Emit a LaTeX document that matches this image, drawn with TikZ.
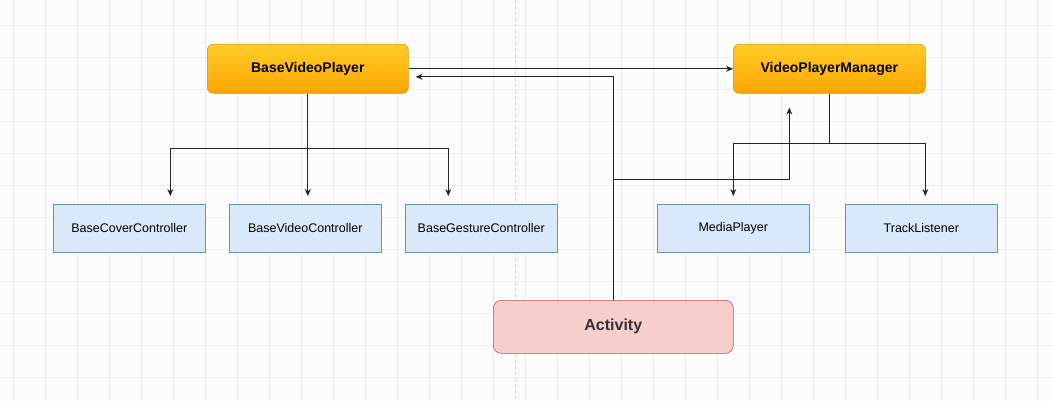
\documentclass[tikz,border=0pt]{standalone}
\usepackage{fontspec}
\setmainfont{Liberation Sans}
\usetikzlibrary{positioning,arrows.meta,backgrounds}

\definecolor{gridminor}{HTML}{F6F6F6}
\definecolor{gridmajor}{HTML}{EBEBEB}
\definecolor{pagebreak}{HTML}{D4D4D4}
\definecolor{mgrtop}{HTML}{FFCD28}
\definecolor{mgrbot}{HTML}{FFA500}
\definecolor{mgrline}{HTML}{D79B00}
\definecolor{ctlfill}{HTML}{DAE8FC}
\definecolor{ctlline}{HTML}{6C8EBF}
\definecolor{actfill}{HTML}{F8CECC}
\definecolor{actline}{HTML}{B85450}
\definecolor{wire}{HTML}{222222}

\begin{document}
\begin{tikzpicture}[
	x=1pt, y=-1pt,
	>={Stealth[length=7pt,width=6pt]},
	core/.style={draw=mgrline, line width=0.6pt, rounded corners=6pt,
		top color=mgrtop, bottom color=mgrbot, inner sep=0pt,
		minimum width=201pt, minimum height=49pt, anchor=north west,
		font=\bfseries\fontsize{14}{17}\selectfont},
	ctrl/.style={draw=ctlline, line width=0.6pt, fill=ctlfill, inner sep=0pt,
		minimum width=152pt, minimum height=48pt, anchor=north west,
		font=\fontsize{12.5}{15}\selectfont},
	host/.style={draw=actline, line width=0.6pt, fill=actfill, rounded corners=8pt,
		inner sep=0pt, minimum width=240pt, minimum height=53pt, anchor=north west,
		text=black!80, font=\bfseries\fontsize{16}{19}\selectfont},
	wireline/.style={draw=wire, line width=0.8pt},
	flow/.style={->, wireline},
]

% ---- canvas grid ----
\useasboundingbox (0,0) rectangle (1052,401);
\fill[white] (0,0) rectangle (1052,401);
\foreach \x in {5,13,...,1052} \draw[gridminor, line width=0.5pt] (\x,0) -- (\x,401);
\foreach \y in {1,9,...,401} \draw[gridminor, line width=0.5pt] (0,\y) -- (1052,\y);
\foreach \x in {13,45,...,1052} \draw[gridmajor, line width=0.7pt] (\x,0) -- (\x,401);
\foreach \y in {25,57,...,401} \draw[gridmajor, line width=0.7pt] (0,\y) -- (1052,\y);
\draw[pagebreak, line width=1pt, dash pattern=on 3pt off 3pt] (515,0) -- (515,401);

% ---- top row ----
\node[core] (player) at (207,44) {BaseVideoPlayer};
\node[core, minimum width=192pt] (manager) at (733,44) {VideoPlayerManager};

% ---- controllers and player parts ----
\node[ctrl] (cover) at (53,204) {BaseCoverController};
\node[ctrl] (video) at (229,204) {BaseVideoController};
\node[ctrl] (gesture) at (405,204) {BaseGestureController};
\node[ctrl] (media) at (657,204) {MediaPlayer};
\node[ctrl] (track) at (845,204) {TrackListener};

% ---- host ----
\node[host] (activity) at (493,300) {Activity};

% ---- player to its controllers ----
\coordinate (pbus) at ([yshift=-55pt]player.south);
\draw[wireline] (player.south) -- (pbus);
\draw[flow] (pbus) -| ([xshift=41pt,yshift=8pt]cover.north);
\draw[flow] (pbus) -- ([yshift=8pt]pbus |- video.north);
\draw[flow] (pbus) -| ([xshift=-33pt,yshift=8pt]gesture.north);

% ---- manager to its parts ----
\coordinate (mbus) at ([yshift=-50pt]manager.south);
\draw[wireline] (manager.south) -- (mbus);
\draw[flow] (mbus) -| ([yshift=8pt]media.north);
\draw[flow] (mbus) -| ([xshift=4pt,yshift=8pt]track.north);

% ---- player to manager ----
\draw[flow] (player.east) -- (manager.west);

% ---- activity uses both ----
\draw[flow] (activity.north) |- ([xshift=7pt,yshift=-8pt]player.east);
\coordinate (abranch) at ([yshift=121pt]activity.north);
\draw[flow] (abranch) -| ([xshift=-40pt,yshift=-14pt]manager.south);

\end{tikzpicture}
\end{document}
